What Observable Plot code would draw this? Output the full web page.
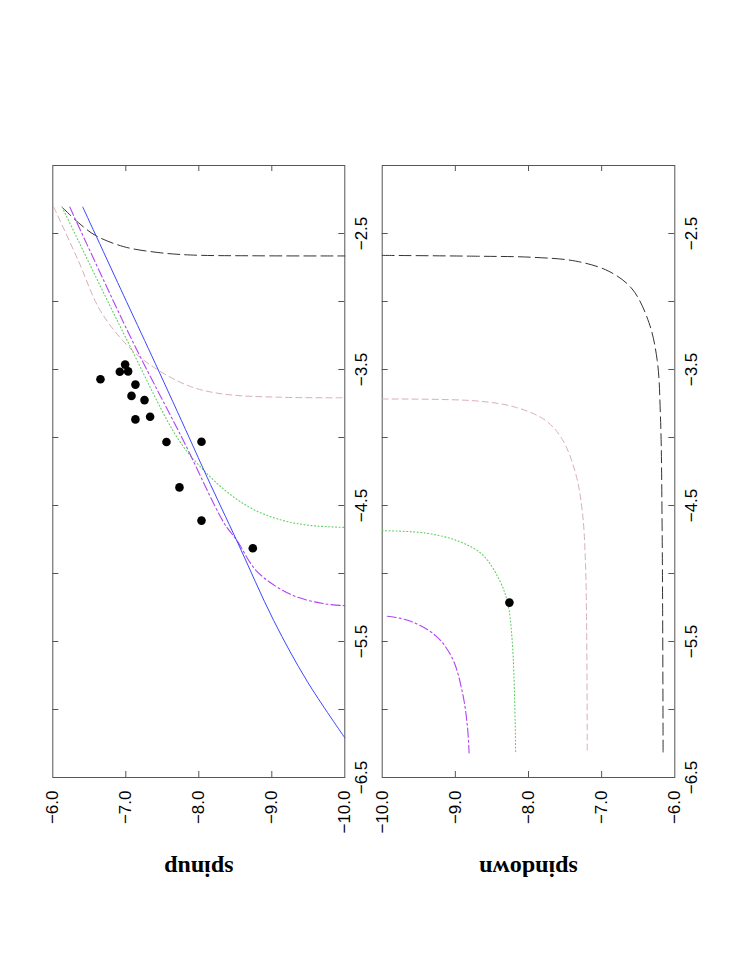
<!DOCTYPE html>
<html>
<head>
<meta charset="utf-8">
<script src="https://cdn.jsdelivr.net/npm/d3@7"></script>
<script src="https://cdn.jsdelivr.net/npm/@observablehq/plot@0.6"></script>
<style>
  html, body { margin: 0; padding: 0; background: #fff; }
  #wrap { position: relative; width: 747px; height: 967px; overflow: hidden; background: #fff; }
  #wrap > svg { position: absolute; top: 0; }
</style>
</head>
<body>
<div id="wrap"></div>
<script>
// ---- tick values ----
const xTickLabels = [-6, -7, -8, -9, -10];
const xTickMarks = [-7, -8, -9];
const yTickMarks = [-2.5, -3, -3.5, -4, -4.5, -5, -5.5, -6];
const yTickLabels = [-2.5, -3.5, -4.5, -5.5, -6.5];
const panelLabels = ["spinup", "spindown"];

// ---- spinup panel: [energy, v] ----
const upBlue = [[-6.411,-2.306],[-7.009,-3.0],[-7.406,-3.458],[-7.868,-4.0],[-8.114,-4.292],[-8.525,-4.764],[-9.027,-5.347],[-9.484,-5.792],[-10.0,-6.208]];
const upBlack = [[-6.128,-2.306],[-6.35,-2.42],[-6.584,-2.514],[-6.973,-2.597],[-7.429,-2.639],[-7.886,-2.658],[-8.8,-2.664],[-10.0,-2.665]];
const upPink = [[-6.014,-2.306],[-6.35,-2.70],[-6.653,-3.069],[-7.064,-3.347],[-7.43,-3.50],[-7.886,-3.625],[-8.342,-3.681],[-9.119,-3.704],[-10.0,-3.708]];
const upGreen = [[-6.128,-2.306],[-7.019,-3.287],[-7.74,-4.03],[-8.115,-4.267],[-8.434,-4.42],[-8.753,-4.53],[-9.118,-4.605],[-9.5,-4.645],[-10.0,-4.661]];
const upPurple = [[-6.233,-2.306],[-7.088,-3.287],[-7.80,-4.035],[-8.342,-4.625],[-8.526,-4.76],[-8.799,-4.986],[-9.256,-5.153],[-9.712,-5.222],[-10.0,-5.236]];
const upDotsE = [-6.653,-6.918,-6.991,-7.032,-7.132,-7.078,-7.256,-7.132,-7.333,-7.557,-8.037,-7.735,-8.037,-8.740];
const upDotsV = [-3.572,-3.517,-3.464,-3.514,-3.611,-3.694,-3.725,-3.867,-3.847,-4.033,-4.031,-4.367,-4.611,-4.814];

// ---- spindown panel: [energy, v] ----
const downBlack = [[-10.0,-2.661],[-8.721,-2.667],[-7.947,-2.675],[-7.356,-2.703],[-6.901,-2.778],[-6.583,-2.908],[-6.355,-3.153],[-6.241,-3.431],[-6.196,-3.847],[-6.173,-4.681],[-6.16,-6.319]];
const downPink = [[-10.0,-3.717],[-8.721,-3.731],[-8.175,-3.778],[-7.766,-3.875],[-7.538,-4.014],[-7.356,-4.264],[-7.265,-4.542],[-7.219,-4.958],[-7.197,-6.319]];
const downGreen = [[-10.0,-4.685],[-9.404,-4.703],[-8.949,-4.764],[-8.63,-4.861],[-8.403,-5.042],[-8.289,-5.208],[-8.220,-5.514],[-8.175,-6.319]];
const downPurple = [[-9.93,-5.314],[-9.631,-5.347],[-9.267,-5.458],[-9.04,-5.625],[-8.903,-5.875],[-8.835,-6.125],[-8.812,-6.319]];
const downDotsE = [-8.261];
const downDotsV = [-5.214];

const fmt = d3.format(".1f");
const tickFont = "Liberation Sans, Arial, Helvetica, sans-serif";
const styles = {
  blue:   {stroke: "#3c46ff", strokeWidth: 1},
  black:  {stroke: "#333333", strokeWidth: 1, strokeDasharray: "12,5"},
  pink:   {stroke: "#d9aeb8", strokeWidth: 1, strokeDasharray: "6,4"},
  green:  {stroke: "#5fcf5f", strokeWidth: 1.1, strokeDasharray: "1,2.5"},
  purple: {stroke: "#b044f5", strokeWidth: 1.1, strokeDasharray: "9,3,2,3"}
};

function panel({xDomain, curves, dotsE, dotsV, label, width, marginLeft, marginRight}) {
  const H = 967, mt = 165, mb = 190;
  const fh = H - mt - mb, fw = width - marginLeft - marginRight;
  const dots = dotsE.map((e, i) => ({e, v: dotsV[i]}));
  const marks = [
    Plot.frame({stroke: "#555", strokeWidth: 1}),
    Plot.tickX(xTickMarks, {x: d => d, insetTop: fh - 6, stroke: "#555"}),
    Plot.tickX(xTickMarks, {x: d => d, insetBottom: fh - 6, stroke: "#555"}),
    Plot.tickY(yTickMarks, {y: d => d, insetRight: fw - 6, stroke: "#555"}),
    Plot.tickY(yTickMarks, {y: d => d, insetLeft: fw - 6, stroke: "#555"}),
    ...curves.map(([data, st]) => Plot.line(data, {x: d => d[0], y: d => d[1], curve: "catmull-rom", ...st})),
    Plot.dot(dots, {x: "e", y: "v", r: 4.3, fill: "#000", stroke: "none"}),
    Plot.text(xTickLabels, {x: d => d, text: d => fmt(d), frameAnchor: "bottom", dy: 13, rotate: -90,
      textAnchor: "end", lineAnchor: "middle", fontSize: 17, fontFamily: tickFont, fill: "#000"}),
    Plot.text(yTickLabels, {y: d => d, text: d => fmt(d), frameAnchor: "right", dx: 16.5, rotate: -90,
      textAnchor: "middle", lineAnchor: "middle", fontSize: 17, fontFamily: tickFont, fill: "#000"}),
    Plot.text([label], {text: d => d, frameAnchor: "bottom", dy: 91, rotate: 180, textAnchor: "middle",
      lineAnchor: "middle", fontSize: 24, fontWeight: "bold", fontFamily: "Liberation Serif, Times New Roman, serif", fill: "#000"})
  ];
  return Plot.plot({
    width, height: H,
    marginTop: mt, marginBottom: mb, marginLeft, marginRight,
    x: {domain: xDomain, axis: null},
    y: {domain: [-6.5, -2.0], axis: null},
    style: {overflow: "visible", background: "transparent"},
    marks
  });
}

const left = panel({
  xDomain: [-6, -10],
  curves: [[upBlack, styles.black], [upPink, styles.pink], [upGreen, styles.green], [upPurple, styles.purple], [upBlue, styles.blue]],
  dotsE: upDotsE, dotsV: upDotsV, label: panelLabels[0],
  width: 374, marginLeft: 52.3, marginRight: 374 - 344.3
});
const right = panel({
  xDomain: [-10, -6],
  curves: [[downBlack, styles.black], [downPink, styles.pink], [downGreen, styles.green], [downPurple, styles.purple]],
  dotsE: downDotsE, dotsV: downDotsV, label: panelLabels[1],
  width: 373, marginLeft: 381.7 - 374, marginRight: 373 - (674.3 - 374)
});
left.style.left = "0px";
right.style.left = "374px";
const wrap = document.getElementById("wrap");
wrap.appendChild(left);
wrap.appendChild(right);
</script>
</body>
</html>
